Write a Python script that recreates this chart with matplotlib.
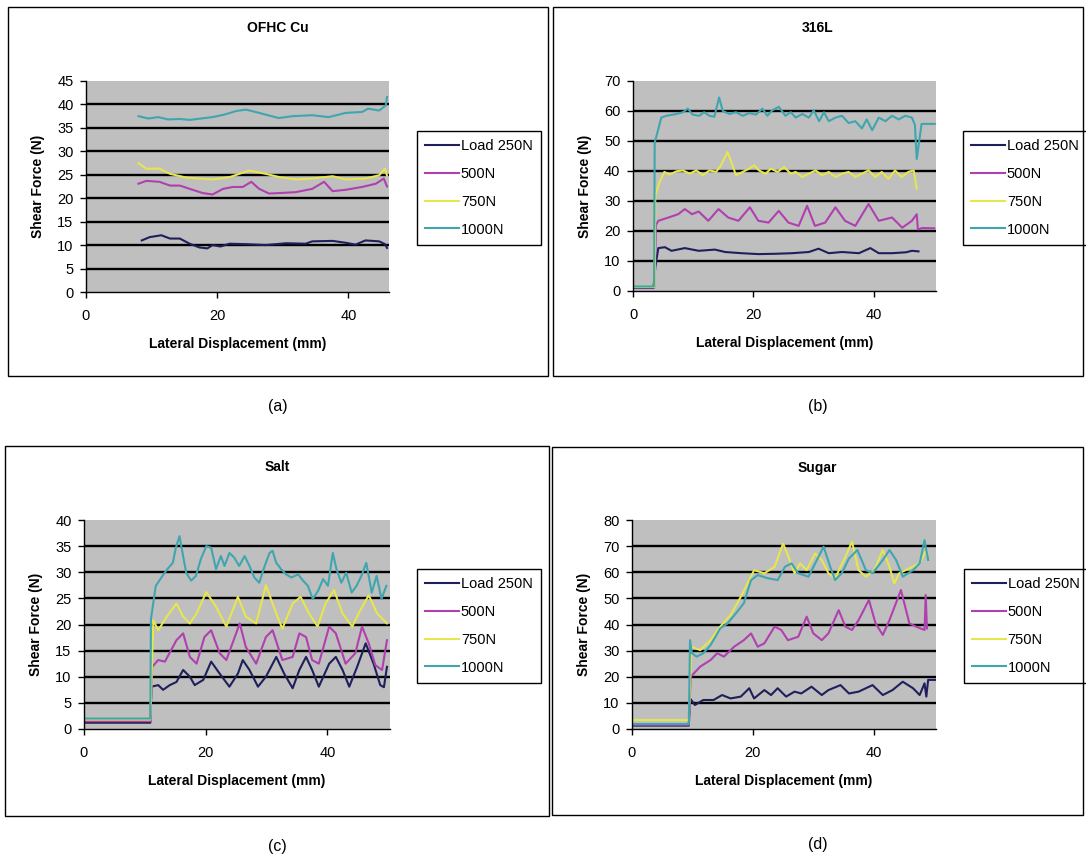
import matplotlib
matplotlib.use('Agg')
import matplotlib.pyplot as plt
from matplotlib.patches import Rectangle

plt.rcParams['font.family'] = ['Liberation Sans', 'DejaVu Sans']

# ---- data (x in mm, y in N) ----
labels = ['Load 250N', '500N', '750N', '1000N']
colors = ['#1f1f5c', '#b040b0', '#e6e64e', '#3fa6b0']

# (a) OFHC Cu
a_x_250 = [8.5, 9.7, 11.5, 12.8, 14.3, 15.8, 17.3, 18.5, 19.3, 20.5, 21.9, 24.4, 27.4, 30.5, 33.5, 34.5, 37.6, 39.6, 41.1, 42.6, 44.7, 45.6, 45.9]
a_y_250 = [11.0, 11.7, 12.1, 11.4, 11.4, 10.3, 9.5, 9.3, 10.0, 9.7, 10.3, 10.2, 10.0, 10.4, 10.3, 10.8, 10.9, 10.5, 10.1, 11.0, 10.8, 10.2, 9.4]
a_x_500 = [8, 9.2, 11.2, 12.8, 14.3, 15.8, 17.8, 19.3, 20.9, 22.4, 23.9, 25.2, 26.4, 27.9, 29.5, 32, 34.5, 36.3, 37.6, 39.6, 42.1, 44.2, 45.4, 45.9]
a_y_500 = [23.1, 23.7, 23.5, 22.7, 22.7, 22.0, 21.1, 20.8, 22.0, 22.4, 22.4, 23.5, 22.0, 21.0, 21.1, 21.3, 22.0, 23.5, 21.5, 21.8, 22.4, 23.1, 24.2, 22.5]
a_x_750 = [8, 9.2, 11.2, 12.8, 15.3, 19.3, 21.9, 24.9, 27.4, 29.5, 32, 34.5, 37.6, 39.6, 42.6, 44.7, 45.6, 45.9]
a_y_750 = [27.5, 26.3, 26.3, 25.2, 24.4, 24.0, 24.5, 25.9, 25.2, 24.5, 24.0, 24.2, 24.7, 24.0, 24.2, 24.9, 26.3, 24.8]
a_x_1000 = [8, 9.5, 11, 12.5, 14.3, 15.8, 19.3, 21, 22.9, 24.4, 26.4, 28, 29.4, 31.5, 34.5, 37, 39.6, 42.1, 43, 44.7, 45.7, 45.9]
a_y_1000 = [37.5, 37.0, 37.3, 36.8, 36.9, 36.7, 37.3, 37.8, 38.6, 38.9, 38.2, 37.6, 37.1, 37.5, 37.7, 37.3, 38.2, 38.4, 39.1, 38.7, 39.8, 41.6]

# (b) 316L
b_x_250 = [0, 3.4, 3.7, 4.2, 5.3, 6.4, 8.6, 10.9, 13.6, 15.3, 18, 20.8, 23.5, 26.4, 29.2, 30.8, 32.5, 34.7, 37.5, 39.4, 40.8, 43, 45.3, 46.3, 47.4]
b_y_250 = [1.0, 1.0, 8.0, 14.3, 14.6, 13.4, 14.3, 13.4, 13.8, 13.0, 12.6, 12.3, 12.4, 12.6, 13.0, 14.1, 12.6, 13.0, 12.6, 14.3, 12.6, 12.6, 12.9, 13.4, 13.2]
b_x_500 = [0, 3.6, 3.8, 4.2, 5.9, 7.5, 8.6, 9.8, 10.9, 12.5, 14.2, 15.8, 17.5, 19.4, 20.8, 22.5, 24.2, 25.8, 27.5, 28.9, 30.2, 31.9, 33.6, 35.2, 36.9, 39.1, 40.8, 43, 44.7, 46.3, 47.1, 47.3, 48, 50]
b_y_500 = [1.2, 1.2, 22.0, 23.4, 24.5, 25.6, 27.3, 25.6, 26.5, 23.4, 27.3, 24.5, 23.4, 27.9, 23.4, 22.8, 26.7, 22.8, 21.7, 28.4, 21.7, 22.8, 27.9, 23.4, 21.7, 29.0, 23.4, 24.5, 21.1, 23.4, 25.6, 20.5, 21.0, 20.9]
b_x_750 = [0, 3.6, 3.7, 4.4, 5.2, 6.1, 7.2, 8.3, 9.4, 10.5, 11.6, 12.7, 13.8, 14.6, 15.7, 16.5, 17.1, 18.2, 19.3, 20.1, 20.9, 22, 22.9, 24, 25.1, 26.2, 27, 28.1, 29.2, 30.3, 31.4, 32.5, 33.6, 34.7, 35.8, 36.9, 38, 39.1, 40.2, 41.3, 42.4, 43.5, 44.6, 45.7, 46.6, 47.1]
b_y_750 = [1.3, 1.3, 31.9, 36.3, 39.7, 38.8, 39.9, 40.2, 39.1, 40.2, 38.6, 40.2, 39.7, 41.9, 46.3, 41.9, 38.6, 39.7, 40.8, 41.9, 40.2, 39.1, 40.8, 39.7, 41.3, 39.1, 39.7, 38.0, 39.1, 40.2, 38.6, 39.7, 38.0, 39.1, 39.7, 38.0, 39.1, 40.2, 38.0, 39.7, 37.4, 40.2, 38.0, 39.7, 40.2, 34.1]
b_x_1000 = [0, 3.5, 3.6, 4.7, 5.5, 7.2, 8.3, 9.1, 9.9, 11, 11.8, 12.7, 13.5, 14.3, 14.9, 16, 17.1, 18.2, 19.3, 20.4, 21.5, 22.3, 23.1, 24.2, 25.3, 26.2, 27, 28.1, 29.2, 30, 30.9, 31.7, 32.5, 33.6, 34.7, 35.8, 36.9, 38, 38.8, 39.7, 40.8, 41.9, 43, 44.1, 45.2, 46.3, 46.8, 47.1, 47.9, 50.1]
b_y_1000 = [1.5, 1.5, 49.4, 57.8, 58.4, 59.0, 59.6, 60.8, 58.8, 58.4, 59.6, 58.4, 58.1, 64.5, 60.0, 59.0, 59.6, 58.4, 59.3, 58.8, 60.8, 58.4, 60.2, 61.4, 58.4, 59.6, 57.8, 59.0, 57.8, 60.2, 56.6, 59.6, 56.6, 57.8, 58.4, 56.0, 56.6, 54.2, 57.2, 53.6, 57.8, 56.6, 58.4, 57.2, 58.4, 57.8, 55.4, 44.0, 55.7, 55.7]

# (c) Salt
c_x_250 = [0, 10.9, 11.1, 12.2, 13, 14.1, 15.2, 16.3, 17.4, 18.2, 19.6, 20.9, 22.3, 23.9, 25.3, 26.1, 27.2, 28.6, 29.9, 31.6, 32.9, 34.3, 35.4, 36.5, 37.5, 38.6, 40.3, 41.4, 42.5, 43.6, 44.9, 46.3, 47.6, 48.7, 49.3, 49.8]
c_y_250 = [1.2, 1.2, 8.1, 8.4, 7.5, 8.4, 9.0, 11.3, 10.0, 8.4, 9.4, 12.9, 10.6, 8.1, 10.6, 13.2, 11.3, 8.1, 10.0, 13.8, 10.6, 7.8, 11.3, 13.8, 11.3, 8.1, 12.5, 13.8, 11.3, 8.1, 11.9, 16.4, 12.5, 8.4, 8.0, 11.9]
c_x_500 = [0, 10.9, 11.2, 12.2, 13.3, 15.2, 16.3, 17.4, 18.5, 19.8, 20.9, 22.3, 23.4, 25.6, 26.6, 28.3, 29.9, 31, 32.6, 34.3, 35.4, 36.5, 37.5, 38.6, 40.3, 41.4, 43, 44.6, 45.7, 46.8, 47.9, 49, 49.8]
c_y_500 = [1.5, 1.5, 11.9, 13.2, 12.9, 17.0, 18.3, 13.8, 12.5, 17.6, 18.9, 14.5, 13.2, 20.2, 15.7, 12.5, 17.6, 18.9, 13.2, 13.8, 18.3, 17.6, 13.2, 12.5, 19.6, 18.3, 12.5, 14.5, 19.6, 16.4, 12.2, 11.3, 17.0]
c_x_750 = [0, 10.9, 11.4, 12.2, 13.6, 15.2, 16.3, 17.4, 18.5, 20.1, 21.7, 23.4, 25.3, 26.6, 28.3, 29.9, 31.6, 32.6, 34.3, 35.6, 37, 38.4, 39.7, 41.1, 42.5, 44.1, 45.4, 46.8, 48.2, 49.8]
c_y_750 = [1.8, 1.8, 20.8, 18.9, 21.5, 24.0, 21.5, 20.2, 22.1, 26.2, 23.4, 19.6, 25.3, 21.5, 20.2, 27.5, 22.1, 19.2, 24.0, 25.3, 22.1, 19.6, 24.0, 26.6, 22.1, 19.6, 22.7, 25.6, 22.1, 20.2]
c_x_1000 = [0, 10.9, 11.0, 11.8, 12.9, 13.7, 14.6, 15.1, 15.7, 16.2, 16.8, 17.6, 18.4, 19.2, 20.1, 20.9, 21.7, 22.5, 23.1, 23.9, 24.7, 25.5, 26.4, 27.2, 28, 28.8, 29.7, 30.5, 31, 31.6, 32.4, 33.2, 34.1, 35.2, 36, 36.8, 37.6, 38.5, 39.3, 40.1, 40.9, 41.5, 42.3, 43.1, 44, 44.8, 45.6, 46.4, 47.3, 48.1, 48.9, 49.7]
c_y_1000 = [2.0, 2.0, 21.0, 27.4, 29.3, 30.6, 31.8, 34.7, 36.9, 33.7, 29.9, 28.4, 29.3, 32.5, 35.0, 34.7, 30.6, 33.1, 31.2, 33.7, 32.8, 31.2, 33.1, 31.2, 29.0, 28.0, 31.2, 33.7, 34.1, 31.8, 30.6, 29.6, 29.0, 29.6, 28.4, 27.4, 24.9, 26.5, 28.7, 27.4, 33.7, 30.6, 28.0, 29.9, 26.1, 27.4, 29.3, 31.8, 26.1, 29.3, 24.9, 27.4]

# (d) Sugar
d_x_250 = [0, 9.4, 9.6, 10.4, 11.8, 13.5, 14.9, 16.3, 18, 19.4, 20.2, 21.9, 23, 24.1, 25.5, 26.9, 28, 29.7, 31.4, 32.5, 34.5, 35.9, 37.5, 39.8, 41.5, 43.1, 44.8, 46.5, 47.6, 48.4, 48.7, 49, 50.5]
d_y_250 = [1.3, 1.3, 11.7, 9.2, 11.1, 11.1, 13.0, 11.7, 12.4, 15.6, 11.7, 14.9, 13.0, 15.6, 12.4, 14.3, 13.6, 16.2, 13.0, 14.9, 16.8, 13.6, 14.3, 16.8, 13.0, 14.9, 18.1, 15.6, 13.0, 17.5, 12.4, 18.8, 18.8]
d_x_500 = [0, 9.4, 9.7, 11.3, 13, 14.1, 15.2, 16.9, 18.5, 19.7, 20.8, 21.9, 23.6, 24.7, 25.8, 27.5, 28.9, 30, 31.4, 32.5, 34.2, 35.3, 36.4, 37.5, 39.2, 40.3, 41.5, 42.6, 44.5, 45.9, 47, 48.4, 48.6, 48.8]
d_y_500 = [1.6, 1.6, 20.0, 23.9, 26.4, 29.0, 27.7, 31.5, 34.0, 36.6, 31.5, 32.8, 39.2, 37.9, 34.0, 35.3, 43.0, 36.6, 34.0, 36.6, 45.5, 39.2, 37.9, 41.7, 49.4, 40.4, 36.0, 41.7, 53.2, 40.4, 39.2, 37.9, 51.3, 38.5]
d_x_750 = [0, 9.4, 9.8, 11.3, 13, 14.6, 16.3, 18, 19.4, 20.2, 21.9, 23.6, 25, 26.1, 26.9, 27.8, 28.9, 30.3, 31.4, 32.5, 33.6, 35.3, 36.4, 37.5, 38.7, 40.1, 41.5, 42.6, 43.4, 44.2, 45.9, 47.6, 48.7]
d_y_750 = [3.4, 3.4, 31.5, 30.2, 34.0, 39.2, 43.6, 50.6, 57.0, 60.8, 59.6, 62.1, 71.0, 64.7, 59.6, 63.4, 60.8, 67.2, 64.7, 59.6, 57.7, 65.9, 71.7, 60.8, 58.3, 60.8, 68.5, 62.1, 55.7, 59.6, 61.5, 63.4, 68.5]
d_x_1000 = [0, 9.4, 9.6, 9.9, 10.7, 11.8, 13, 14.6, 15.8, 17.2, 18.5, 19.7, 20.8, 22.5, 24.1, 25.3, 26.4, 27.5, 29.2, 30.6, 31.7, 32.8, 33.6, 34.7, 35.9, 37.3, 38.7, 39.8, 41.5, 42.6, 43.7, 44.8, 46.5, 47.6, 48.4, 49]
d_y_1000 = [1.9, 1.9, 34.0, 29.0, 27.7, 29.0, 32.1, 38.5, 40.4, 44.3, 48.1, 57.0, 58.9, 57.7, 57.0, 62.1, 63.4, 59.6, 58.3, 64.7, 69.8, 62.1, 57.0, 59.6, 65.3, 68.5, 60.8, 59.6, 64.7, 68.5, 64.7, 58.3, 60.8, 63.4, 72.3, 64.7]

titles = ['OFHC Cu', '316L', 'Salt', 'Sugar']
sub_labels = ['(a)', '(b)', '(c)', '(d)']
y_ticks = [list(range(0, 50, 5)), list(range(0, 80, 10)), list(range(0, 45, 5)), list(range(0, 90, 10))]
x_max = [46.2, 50.3, 50.3, 50.3]

W, H = 1086, 858
fig = plt.figure(figsize=(W / 100, H / 100), dpi=100)


def fx(px):
    return px / W


def fy(py):
    return 1 - py / H


def panel(i, box, axbox, legxy, series):
    l, t, r, b = box
    fig.patches.append(Rectangle((fx(l), fy(b)), fx(r - l), (b - t) / H, transform=fig.transFigure,
                                 fill=False, ec='black', lw=1.0))
    al, at, ar, ab = axbox
    ax = fig.add_axes([fx(al), fy(ab), fx(ar - al), (ab - at) / H])
    ax.set_facecolor('#bfbfbf')
    for (xs, ys), c, lab in zip(series, colors, labels):
        ax.plot(xs, ys, color=c, lw=1.5, label=lab)
    ax.set_xlim(0, x_max[i])
    ax.set_ylim(y_ticks[i][0], y_ticks[i][-1])
    ax.set_yticks(y_ticks[i])
    ax.set_xticks([0, 20, 40])
    ax.grid(axis='y', color='black', lw=1.7)
    ax.set_axisbelow(True)
    gl = ax.get_ygridlines()
    gl[0].set_visible(False)
    gl[-1].set_visible(False)
    for s in ['top', 'right']:
        ax.spines[s].set_visible(False)
    ax.spines['left'].set_linewidth(1.0)
    ax.spines['bottom'].set_linewidth(1.0)
    ax.tick_params(length=4, width=1, labelsize=10.5, colors='black')
    ax.tick_params(axis='y', pad=5)
    ax.tick_params(axis='x', pad=8)
    fig.text(fx((l + r) / 2), fy(t + 21), titles[i], ha='center', va='center',
             fontsize=10, fontweight='bold')
    fig.text(fx((al + ar) / 2), fy(ab + 52), 'Lateral Displacement (mm)', ha='center', va='center',
             fontsize=10, fontweight='bold')
    fig.text(fx(al - 48), fy((at + ab) / 2), 'Shear Force (N)', ha='center', va='center',
             rotation=90, fontsize=10, fontweight='bold')
    leg = ax.legend(loc='upper left', bbox_to_anchor=(fx(legxy[0]), fy(legxy[1])),
                    bbox_transform=fig.transFigure, fontsize=10.5, frameon=True, fancybox=False,
                    edgecolor='black', framealpha=1, handlelength=2.3, handletextpad=0.15,
                    labelspacing=0.95, borderpad=0.55, borderaxespad=0)
    leg.get_frame().set_linewidth(1.0)
    fig.text(fx((l + r) / 2), fy(b + 30), sub_labels[i], ha='center', va='center', fontsize=11.5)


panel(0, (8, 7, 548, 376), (86, 81, 389, 292), (417, 131),
      [(a_x_250, a_y_250), (a_x_500, a_y_500), (a_x_750, a_y_750), (a_x_1000, a_y_1000)])
panel(1, (553, 7, 1083, 376), (633, 81, 936, 291), (963, 131),
      [(b_x_250, b_y_250), (b_x_500, b_y_500), (b_x_750, b_y_750), (b_x_1000, b_y_1000)])
panel(2, (5, 446, 549, 816), (84, 520, 390, 729), (417, 569),
      [(c_x_250, c_y_250), (c_x_500, c_y_500), (c_x_750, c_y_750), (c_x_1000, c_y_1000)])
panel(3, (552, 447, 1083, 815), (632, 520, 936, 729), (964, 569),
      [(d_x_250, d_y_250), (d_x_500, d_y_500), (d_x_750, d_y_750), (d_x_1000, d_y_1000)])

fig.savefig('out.png', dpi=100, facecolor='white')
